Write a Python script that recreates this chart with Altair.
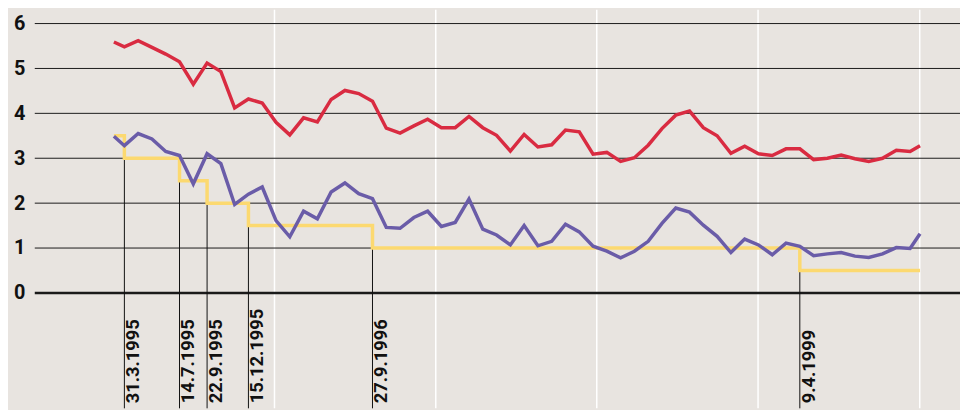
import altair as alt
import pandas as pd

# x = month position (0 = end of March 1995), monthly points
pos = [-0.76] + list(range(0, 58)) + [57.72]

red = [5.59,
       5.48, 5.62, 5.47, 5.32, 5.15, 4.65, 5.12, 4.93, 4.12, 4.32, 4.23, 3.80, 3.52, 3.90,
       3.81, 4.31, 4.51, 4.44, 4.27, 3.67, 3.56, 3.72, 3.87, 3.68, 3.68, 3.93, 3.68, 3.51, 3.16,
       3.53, 3.25, 3.30, 3.63, 3.59, 3.09, 3.13, 2.93, 3.01, 3.29, 3.66, 3.96, 4.05, 3.68,
       3.50, 3.11, 3.27, 3.10, 3.06, 3.21, 3.21, 2.97, 3.00, 3.07, 2.99, 2.93, 3.00, 3.18, 3.15,
       3.28]

purple = [3.49,
          3.28, 3.55, 3.43, 3.15, 3.06, 2.43, 3.10, 2.88, 1.97, 2.20, 2.36, 1.61, 1.25, 1.82,
          1.65, 2.25, 2.45, 2.21, 2.10, 1.46, 1.44, 1.68, 1.82, 1.48, 1.57, 2.09, 1.42, 1.29, 1.07,
          1.50, 1.05, 1.15, 1.53, 1.36, 1.04, 0.93, 0.78, 0.93, 1.15, 1.55, 1.89, 1.80, 1.51,
          1.26, 0.90, 1.20, 1.07, 0.85, 1.11, 1.04, 0.83, 0.87, 0.90, 0.82, 0.79, 0.87, 1.01, 0.99,
          1.32]

step_pos = [-0.76, 0, 4, 6, 9, 18, 49, 57.72]
step_rate = [3.5, 3.0, 2.5, 2.0, 1.5, 1.0, 0.5, 0.5]

change_pos = [0, 4, 6, 9, 18, 49]
change_rate = [3.0, 2.5, 2.0, 1.5, 1.0, 0.5]
change_label = ["31.3.1995", "14.7.1995", "22.9.1995", "15.12.1995", "27.9.1996", "9.4.1999"]

year_pos = [10.89, 22.59, 34.27, 45.97, 57.70]
y_ticks = [0, 1, 2, 3, 4, 5, 6]

W, H = 933, 388
BG = "#e8e4e0"

xs = alt.Scale(domain=[-6.5, 60.62], nice=False, zero=False)
ys = alt.Scale(domain=[-2.57, 6.0], nice=False, zero=False)
yaxis = alt.Axis(values=y_ticks, format="d", grid=False, domain=False, ticks=False,
                 labelFont="Roboto", labelFontWeight="bold", labelFontSize=20,
                 labelColor="#111111", labelPadding=10, title=None)

lines_df = pd.DataFrame({"pos": pos, "red": red, "purple": purple})
step_df = pd.DataFrame({"pos": step_pos, "rate": step_rate})
change_df = pd.DataFrame({"pos": change_pos, "rate": change_rate, "label": change_label})
year_df = pd.DataFrame({"pos": year_pos})
grid_df = pd.DataFrame({"v": y_ticks})

X = lambda f: alt.X(f, scale=xs, axis=None)
Y = lambda f: alt.Y(f, scale=ys, axis=yaxis)

years = alt.Chart(year_df).mark_rule(color="white", strokeWidth=1.5).encode(
    x=X("pos:Q"), y=alt.value(-14), y2=alt.value(H))

grid = alt.Chart(grid_df).mark_rule(color="#1a1a1a").encode(
    y=Y("v:Q"), x=alt.value(0), x2=alt.value(W),
    strokeWidth=alt.condition(alt.datum.v == 0, alt.value(2.6), alt.value(1)))

rules = alt.Chart(change_df).mark_rule(color="#111111", strokeWidth=1).encode(
    x=X("pos:Q"), y=Y("rate:Q"), y2=alt.value(H))

step = alt.Chart(step_df).mark_line(color="#fcd970", strokeWidth=3.5,
                                    interpolate="step-after").encode(
    x=X("pos:Q"), y=Y("rate:Q"))

purple_line = alt.Chart(lines_df).mark_line(color="#6a5ca8", strokeWidth=3.5).encode(
    x=X("pos:Q"), y=Y("purple:Q"))

red_line = alt.Chart(lines_df).mark_line(color="#d92b41", strokeWidth=3.5).encode(
    x=X("pos:Q"), y=Y("red:Q"))

labels = alt.Chart(change_df).mark_text(angle=270, align="left", baseline="top",
                                        font="Roboto", fontWeight="bold", fontSize=18.5,
                                        color="#111111").encode(
    x=X("pos:Q"), y=alt.value(383), text="label:N")

chart = alt.layer(years, grid, rules, step, purple_line, red_line, labels).properties(
    width=W, height=H,
    padding={"left": 27, "top": 14, "right": 0, "bottom": 0},
    autosize=alt.AutoSizeParams(type="none"),
).configure(background=BG).configure_view(stroke=None)

chart.save("out.html", embed_options={"renderer": "svg", "actions": False})
